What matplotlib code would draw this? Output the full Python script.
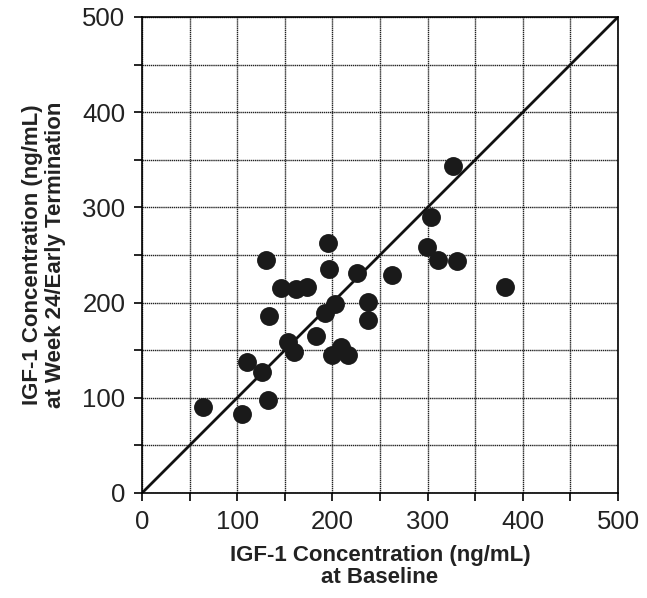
import matplotlib
matplotlib.use("Agg")
import matplotlib.pyplot as plt
from matplotlib.ticker import MultipleLocator

plt.rcParams['font.family'] = ['Liberation Sans', 'DejaVu Sans']

baseline = [63.7, 105.4, 110.3, 125.7, 132.7, 130.2, 133.0, 145.7, 161.8, 173.0,
            153.7, 160.0, 182.8, 195.0, 196.4, 192.2, 202.7, 199.2, 209.0, 216.7,
            226.0, 237.4, 237.4, 262.3, 299.7, 303.2, 311.3, 331.2, 327.0, 381.3]
week24 = [90.7, 83.0, 137.6, 127.0, 97.7, 244.7, 186.0, 215.0, 214.3, 216.7,
          159.0, 148.4, 165.0, 263.0, 235.0, 189.4, 198.0, 145.0, 153.0, 145.0,
          230.8, 201.0, 181.4, 228.7, 258.0, 290.2, 244.7, 244.0, 343.5, 216.7]

fig = plt.figure(figsize=(6.47, 5.98), dpi=100)
ax = fig.add_axes([0.2195, 0.1756, 0.7357, 0.796])

ax.set_xlim(0, 500)
ax.set_ylim(0, 500)
ax.xaxis.set_major_locator(MultipleLocator(100))
ax.yaxis.set_major_locator(MultipleLocator(100))
ax.xaxis.set_minor_locator(MultipleLocator(50))
ax.yaxis.set_minor_locator(MultipleLocator(50))
ax.grid(True, which='both', color='#222222', linestyle=(0, (1, 0.5)), linewidth=1.0)
ax.set_axisbelow(True)

ax.plot([0, 500], [0, 500], color='#111111', linewidth=2, zorder=2)
ax.scatter(baseline, week24, s=185, color='#1a1a1a', zorder=3, linewidths=0)

ax.tick_params(which='major', direction='out', length=6, width=1.2, labelsize=18.5, pad=6,
               labelcolor='#222222')
ax.tick_params(which='minor', direction='out', length=6, width=1.2)
for sp in ax.spines.values():
    sp.set_linewidth(1.2)

ax.set_xlabel('IGF-1 Concentration (ng/mL)\nat Baseline', fontsize=16, fontweight='bold',
              linespacing=1.1, labelpad=8, color='#222222')
ax.set_ylabel('IGF-1 Concentration (ng/mL)\nat Week 24/Early Termination', fontsize=16,
              fontweight='bold', linespacing=1.1, labelpad=12, color='#222222')

fig.savefig('out.png', dpi=100)
